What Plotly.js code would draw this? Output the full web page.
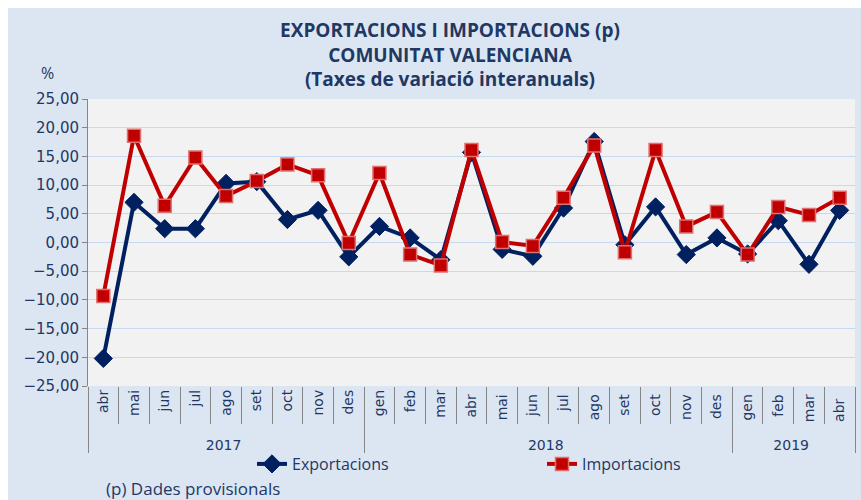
<!DOCTYPE html>
<html>
<head>
<meta charset="utf-8">
<script src="https://cdn.plot.ly/plotly-3.0.1.min.js"></script>
<style>html,body{margin:0;padding:0;background:#fff;}#chart{width:861px;height:500px;}</style>
</head>
<body>
<div id="chart"></div>
<script>
const years = ["2017","2017","2017","2017","2017","2017","2017","2017","2017",
  "2018","2018","2018","2018","2018","2018","2018","2018","2018","2018","2018","2018",
  "2019","2019","2019","2019"];
const months = ["abr","mai","jun","jul","ago","set","oct","nov","des",
  "gen","feb","mar","abr","mai","jun","jul","ago","set","oct","nov","des",
  "gen","feb","mar","abr"];
const exportacions = [-20.2, 7.0, 2.4, 2.4, 10.3, 10.6, 4.0, 5.6, -2.5,
  2.8, 0.8, -3.0, 15.7, -1.2, -2.4, 6.0, 17.6, -0.4, 6.2, -2.1, 0.8,
  -2.0, 3.8, -3.8, 5.6];
const importacions = [-9.3, 18.6, 6.4, 14.8, 8.1, 10.7, 13.6, 11.7, -0.1,
  12.1, -2.1, -4.0, 16.1, 0.1, -0.6, 7.8, 16.9, -1.7, 16.1, 2.8, 5.3,
  -2.1, 6.2, 4.8, 7.8];

// Plotly orders multicategory inner labels by first appearance across all years,
// so repeated month names get trailing spaces (not rendered) to keep each one distinct.
const seenMonths = {};
const monthKeys = months.map(m => {
  const n = seenMonths[m] || 0;
  seenMonths[m] = n + 1;
  return m + ' '.repeat(n);
});

const navy = '#1f3864';
const L = 88, R = 855, T = 99, B = 386, W = 861, H = 500;
const px = v => (v - L) / (R - L);
const py = v => (B - v) / (B - T);

const traces = [
  {
    x: [years, monthKeys], y: exportacions, name: 'Exportacions',
    type: 'scatter', mode: 'lines+markers',
    line: {color: '#002060', width: 4},
    marker: {symbol: 'diamond', size: 14, color: '#002060', line: {color: '#002060', width: 1}}
  },
  {
    x: [years, monthKeys], y: importacions, name: 'Importacions',
    type: 'scatter', mode: 'lines+markers',
    line: {color: '#c00000', width: 4},
    marker: {symbol: 'square', size: 13, color: '#c00000', line: {color: '#e07070', width: 1.5}}
  }
];

const layout = {
  width: W, height: H,
  margin: {l: L, r: W - R, t: T, b: H - B, pad: 0},
  paper_bgcolor: '#dce6f2',
  plot_bgcolor: '#f2f2f2',
  separators: ',.',
  font: {family: 'Open Sans, sans-serif', color: navy, size: 14},
  title: {
    text: '<b>EXPORTACIONS I IMPORTACIONS (p)<br>COMUNITAT VALENCIANA<br>(Taxes de variació interanuals)</b>',
    font: {family: 'Open Sans, sans-serif', size: 19, color: navy},
    x: 450 / W, xanchor: 'center', xref: 'container',
    y: 1 - 37 / H, yanchor: 'top', yref: 'container'
  },
  showlegend: true,
  legend: {
    orientation: 'h', x: px(252), xanchor: 'left', y: py(464), yanchor: 'middle',
    bgcolor: 'rgba(0,0,0,0)', font: {family: 'Open Sans, sans-serif', size: 16, color: navy},
    entrywidth: 245, entrywidthmode: 'pixels'
  },
  xaxis: {
    type: 'multicategory',
    range: [-0.5, 24.5],
    tickangle: -90,
    tickfont: {family: 'DejaVu Sans, sans-serif', size: 14, color: navy},
    ticks: 'outside', ticklen: 37, tickcolor: '#868686', tickwidth: 1,
    showdividers: true, dividercolor: '#868686', dividerwidth: 1,
    showgrid: false, showline: false, zeroline: false
  },
  xaxis2: {
    overlaying: 'x', anchor: 'free', position: 0.5,
    type: 'linear', range: [-0.5, 24.5],
    tickmode: 'linear', tick0: 0.5, dtick: 1,
    ticks: 'outside', ticklen: 5, tickcolor: '#868686',
    showticklabels: false, showgrid: false, zeroline: false,
    showline: true, linecolor: '#868686', linewidth: 1
  },
  yaxis: {
    range: [-25, 25], dtick: 5, tickformat: '.2f',
    tickfont: {family: 'DejaVu Sans, sans-serif', size: 15, color: navy},
    showgrid: true, gridcolor: '#c6d9f1', gridwidth: 1,
    zeroline: false,
    showline: true, linecolor: '#868686', linewidth: 1,
    ticks: 'outside', ticklen: 5, tickcolor: '#868686'
  },
  shapes: [
    {type: 'rect', xref: 'paper', yref: 'paper', layer: 'below',
      x0: px(0), x1: px(8), y0: py(H), y1: py(0), fillcolor: '#ffffff', line: {width: 0}},
    {type: 'rect', xref: 'paper', yref: 'paper', layer: 'below',
      x0: px(0), x1: px(W), y0: py(8), y1: py(0), fillcolor: '#ffffff', line: {width: 0}}
  ],
  annotations: [
    {text: '%', xref: 'paper', yref: 'paper', x: px(47), y: py(73), showarrow: false,
      xanchor: 'center', yanchor: 'middle', font: {family: 'Open Sans, sans-serif', size: 16, color: navy}},
    {text: '(p) Dades provisionals', xref: 'paper', yref: 'paper', x: px(104), y: py(488), showarrow: false,
      xanchor: 'left', yanchor: 'middle', font: {family: 'Open Sans, sans-serif', size: 17, color: navy}}
  ]
};

Plotly.newPlot('chart', traces, layout, {displayModeBar: false, staticPlot: true});
</script>
</body>
</html>
